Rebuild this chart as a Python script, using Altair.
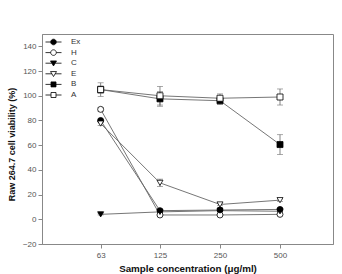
import altair as alt
import pandas as pd

# Sample concentrations (ug/ml)
conc = [63, 125, 250, 500]
series_names = ["Ex", "H", "C", "E", "B", "A"]

# Cell viability (%) per fraction
ex_vals = [80, 7, 7.5, 8]
h_vals = [89, 3.5, 3.5, 4]
c_vals = [4, 6, 7, 6.5]
e_vals = [77.5, 29.5, 12, 15.5]
b_vals = [105, 97.5, 96, 60.5]
a_vals = [105, 100, 98, 99]

# Standard deviations
ex_err = [1, 1, 1, 1]
h_err = [1.5, 1, 1, 1]
c_err = [0.5, 0.5, 0.5, 0.5]
e_err = [1.5, 3, 1, 1]
b_err = [3, 6, 3, 8]
a_err = [5.5, 7.5, 3.5, 6.5]

vals = dict(Ex=ex_vals, H=h_vals, C=c_vals, E=e_vals, B=b_vals, A=a_vals)
errs = dict(Ex=ex_err, H=h_err, C=c_err, E=e_err, B=b_err, A=a_err)

rows = []
for s in series_names:
    for x, v, e in zip(conc, vals[s], errs[s]):
        rows.append({"series": s, "conc": x, "value": v, "err": e})
df = pd.DataFrame(rows)

plot_shapes = ["circle", "circle", "triangle-down", "triangle-down", "square", "square"]
fills = ["black", "white", "black", "white", "black", "white"]
strokes = ["black"] * 6

# legend glyphs: short line with the marker in the middle
circ = "M-1.6,0H-0.56M0.56,0H1.6M-0.56,0A0.56,0.56 0 1,0 0.56,0A0.56,0.56 0 1,0 -0.56,0Z"
tri = "M-1.6,0H-0.33M0.33,0H1.6M-0.6,-0.45L0.6,-0.45L0,0.55Z"
sq = "M-1.6,0H-0.5M0.5,0H1.6M-0.5,-0.5H0.5V0.5H-0.5Z"
legend_shapes = [circ, circ, tri, tri, sq, sq]

font = "Liberation Sans"
line_grey = "#666666"

x_scale = alt.Scale(type="log", base=2, domain=[32, 922], nice=False)
x_axis = alt.Axis(values=conc, format="d", title="Sample concentration (\u03bcg/ml)",
                  grid=False, tickSize=4, labelPadding=3, titlePadding=4,
                  titleFontSize=9.8, labelOverlap=False)
y_scale = alt.Scale(domain=[-20, 150], nice=False, zero=False)
y_axis = alt.Axis(values=list(range(-20, 150, 20)), title="Raw 264.7 cell viability (%)",
                  grid=False, tickSize=4, labelPadding=2, titlePadding=6,
                  titleFontSize=9, titleY=110, labelOverlap=False)

X = alt.X("conc:Q", scale=x_scale, axis=x_axis)

base = alt.Chart(df)

lines = base.mark_line(color=line_grey, strokeWidth=0.9).encode(
    x=X, y=alt.Y("value:Q", scale=y_scale, axis=y_axis), detail="series:N"
)

err_rules = base.transform_calculate(
    lo="datum.value - datum.err", hi="datum.value + datum.err"
).mark_rule(color=line_grey, strokeWidth=0.8).encode(
    x=X, y=alt.Y("lo:Q", scale=y_scale, axis=y_axis), y2="hi:Q"
)
err_caps = base.transform_calculate(
    lo="datum.value - datum.err", hi="datum.value + datum.err"
).transform_fold(["lo", "hi"], as_=["end", "yy"]).mark_tick(
    color=line_grey, thickness=0.8, size=6, orient="horizontal"
).encode(x=X, y=alt.Y("yy:Q", scale=y_scale, axis=y_axis))

points = base.mark_point(stroke="black", strokeWidth=0.8, fillOpacity=1, opacity=1, size=36).encode(
    x=X,
    y=alt.Y("value:Q", scale=y_scale, axis=y_axis),
    shape=alt.Shape("series:N", scale=alt.Scale(domain=series_names, range=plot_shapes), legend=None),
    fill=alt.Fill("series:N", scale=alt.Scale(domain=series_names, range=fills), legend=None),
)

legend_layer = base.transform_filter("false").mark_point(
    strokeWidth=0.8, fillOpacity=1, opacity=1
).encode(
    x=X,
    y=alt.Y("value:Q", scale=y_scale, axis=y_axis),
    shape=alt.Shape("series:N", scale=alt.Scale(domain=series_names, range=legend_shapes),
                    legend=alt.Legend(title=None, orient="none", legendX=6, legendY=2.5,
                                      symbolSize=100, labelOffset=12,
                                      symbolStrokeWidth=0.8, symbolOpacity=1,
                                      labelFontSize=8, labelFont=font, labelColor="#333333",
                                      rowPadding=0.6, padding=0)),
    fill=alt.Fill("series:N", scale=alt.Scale(domain=series_names, range=fills)),
    stroke=alt.Stroke("series:N", scale=alt.Scale(domain=series_names, range=strokes)),
)

chart = alt.layer(lines, err_rules, err_caps, points, legend_layer).resolve_scale(
    shape="independent", fill="independent", stroke="independent"
).properties(
    width=291, height=210,
    autosize=alt.AutoSizeParams(type="none"),
    padding={"left": 42, "top": 34, "right": 9, "bottom": 30},
).configure_view(
    stroke="#888888", strokeWidth=1
).configure_axis(
    domainColor="#888888", tickColor="#888888", labelColor="#555555",
    labelFont=font, labelFontSize=8, titleFont=font,
    titleFontWeight="bold", titleColor="#111111", labelOverlap=False,
)

chart.save("out.html", embed_options={"renderer": "svg", "actions": False})
